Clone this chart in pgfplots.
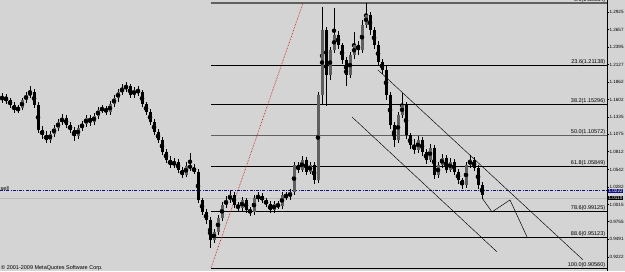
\documentclass[border=0pt]{standalone}
\usepackage{pgfplots}
\pgfplotsset{compat=1.18}
\usepackage{pgfplotstable}
\usepackage{fontspec}
\setmainfont{Liberation Sans}
\definecolor{bg}{RGB}{212,212,212}
\definecolor{navy}{RGB}{16,16,128}
\definecolor{upc}{RGB}{95,95,95}
\newcommand\tf{\fontsize{5.5}{6}\selectfont}
\newcommand\smf{\fontsize{4.6}{5}\selectfont}

\pgfplotstableread{
x o h l c d
2 1.160 1.170 1.155 1.164 1
6 1.164 1.168 1.153 1.159 0
10 1.159 1.163 1.147 1.152 0
14 1.152 1.156 1.139 1.144 0
18 1.144 1.152 1.140 1.147 1
22 1.147 1.163 1.144 1.159 1
26 1.159 1.172 1.155 1.167 1
30 1.167 1.180 1.162 1.171 1
34 1.171 1.176 1.148 1.152 0
38 1.152 1.156 1.110 1.114 0
42 1.114 1.120 1.100 1.106 0
46 1.106 1.112 1.094 1.099 0
50 1.099 1.112 1.095 1.108 1
54 1.108 1.122 1.104 1.117 1
58 1.117 1.131 1.112 1.126 1
62 1.126 1.138 1.121 1.132 1
66 1.132 1.136 1.117 1.122 0
70 1.122 1.126 1.109 1.114 0
74 1.114 1.118 1.098 1.105 0
78 1.105 1.121 1.101 1.117 1
82 1.117 1.128 1.113 1.123 1
86 1.123 1.137 1.119 1.132 1
90 1.132 1.136 1.120 1.126 0
94 1.126 1.140 1.122 1.135 1
98 1.135 1.149 1.131 1.144 1
102 1.144 1.152 1.139 1.147 1
106 1.147 1.151 1.136 1.141 0
110 1.141 1.158 1.137 1.153 1
114 1.153 1.167 1.149 1.162 1
118 1.162 1.176 1.157 1.171 1
122 1.171 1.183 1.167 1.177 1
126 1.177 1.186 1.172 1.180 1
130 1.180 1.184 1.162 1.167 0
134 1.167 1.179 1.163 1.174 1
138 1.174 1.180 1.166 1.171 0
142 1.171 1.175 1.148 1.153 0
146 1.153 1.157 1.136 1.141 0
150 1.141 1.145 1.121 1.126 0
154 1.126 1.130 1.106 1.111 0
158 1.111 1.115 1.094 1.099 0
162 1.099 1.103 1.076 1.081 0
166 1.081 1.085 1.064 1.069 0
170 1.069 1.074 1.056 1.061 0
174 1.061 1.071 1.057 1.066 1
178 1.066 1.070 1.049 1.054 0
182 1.054 1.058 1.041 1.046 0
186 1.046 1.065 1.043 1.060 1
190 1.060 1.080 1.052 1.057 0
194 1.057 1.062 1.047 1.051 0
198 1.051 1.055 1.003 1.008 0
202 1.008 1.012 0.985 0.990 0
206 0.990 0.995 0.972 0.978 0
210 0.978 0.982 0.935 0.948 0
214 0.948 0.965 0.944 0.960 1
218 0.960 0.986 0.956 0.981 1
222 0.981 1.006 0.977 1.001 1
226 1.001 1.014 0.996 1.008 1
230 1.008 1.022 1.004 1.016 1
234 1.016 1.020 0.996 1.001 0
238 1.001 1.006 0.990 0.996 0
242 0.996 1.013 0.992 1.008 1
246 1.008 1.012 0.988 0.993 0
250 0.993 0.998 0.984 0.990 0
254 0.990 1.016 0.986 1.011 1
258 1.011 1.020 1.006 1.014 1
262 1.014 1.019 1.003 1.008 0
266 1.008 1.012 0.997 1.002 0
270 1.002 1.006 0.988 0.993 0
274 0.993 1.007 0.989 1.002 1
278 1.002 1.006 0.994 0.999 0
282 0.999 1.021 0.995 1.016 1
286 1.016 1.020 1.008 1.013 0
290 1.013 1.025 1.009 1.020 1
294 1.020 1.066 1.016 1.061 1
298 1.061 1.065 1.049 1.054 0
302 1.054 1.075 1.050 1.069 1
306 1.069 1.073 1.046 1.051 0
310 1.051 1.066 1.047 1.061 1
314 1.061 1.065 1.032 1.038 0
318 1.038 1.172 1.034 1.167 1
322 1.167 1.300 1.152 1.265 1
326 1.265 1.270 1.150 1.197 0
330 1.197 1.240 1.190 1.235 1
334 1.235 1.298 1.230 1.258 1
338 1.258 1.263 1.237 1.242 0
342 1.242 1.246 1.214 1.220 0
346 1.220 1.224 1.180 1.197 0
350 1.197 1.232 1.192 1.227 1
354 1.227 1.262 1.222 1.242 1
358 1.242 1.248 1.228 1.235 0
362 1.235 1.280 1.230 1.273 1
366 1.273 1.306 1.268 1.288 1
370 1.288 1.293 1.258 1.265 0
374 1.265 1.270 1.236 1.242 0
378 1.242 1.248 1.211 1.217 0
382 1.217 1.222 1.199 1.205 0
386 1.205 1.210 1.160 1.167 0
390 1.167 1.171 1.116 1.122 0
394 1.122 1.126 1.088 1.099 0
398 1.099 1.141 1.094 1.137 1
402 1.137 1.170 1.132 1.152 1
406 1.152 1.156 1.100 1.106 0
410 1.106 1.110 1.085 1.091 0
414 1.091 1.100 1.078 1.084 0
418 1.084 1.105 1.080 1.099 1
422 1.099 1.103 1.075 1.081 0
426 1.081 1.085 1.063 1.069 0
430 1.069 1.093 1.065 1.087 1
434 1.087 1.091 1.040 1.046 0
438 1.046 1.066 1.042 1.061 1
442 1.061 1.078 1.057 1.072 1
446 1.072 1.076 1.049 1.054 0
450 1.054 1.071 1.050 1.066 1
454 1.066 1.070 1.046 1.051 0
458 1.051 1.055 1.033 1.038 0
462 1.038 1.042 1.025 1.031 0
466 1.031 1.066 1.027 1.061 1
470 1.061 1.076 1.056 1.069 1
474 1.069 1.073 1.052 1.057 0
478 1.057 1.061 1.025 1.031 0
482 1.031 1.035 1.010 1.016 0
}\candles

\begin{document}
\begin{tikzpicture}
\useasboundingbox (0pt,0pt) rectangle (625pt,271pt);
\fill[bg] (0pt,0pt) rectangle (625pt,271pt);
\begin{axis}[
  at={(0pt,0pt)}, anchor=south west,
  scale only axis, width=607pt, height=271pt,
  xmin=0, xmax=607, ymin=0.9010, ymax=1.3104,
  axis background/.style={fill=bg},
  axis x line=none,
  axis y line*=right,
  y axis line style={black, line width=0.6pt, -},
  ytick={1.2925,1.2657,1.2395,1.2127,1.1862,1.1602,1.1335,1.1075,1.0812,1.0542,1.0282,1.0015,0.9755,0.9491,0.9222},
  yticklabels={1.2925,1.2657,1.2395,1.2127,1.1862,1.1602,1.1335,1.1075,1.0812,1.0542,1.0282,1.0015,0.9755,0.9491,0.9222},
  tick align=outside, major tick length=2pt,
  ytick style={black, line width=0.5pt},
  yticklabel style={font=\smf, inner sep=0.3pt},
  clip mode=individual,
]
% fibonacci levels
\addplot[gray!75!black, line width=1.2pt] coordinates {(211,1.30584)(607,1.30584)};
\addplot[black, line width=0.6pt] coordinates {(211,1.21138)(607,1.21138)};
\addplot[black, line width=0.6pt] coordinates {(211,1.15296)(607,1.15296)};
\addplot[gray!75!black, line width=1.0pt] coordinates {(211,1.10572)(607,1.10572)};
\addplot[black, line width=0.6pt] coordinates {(211,1.05849)(607,1.05849)};
\addplot[black, line width=0.6pt] coordinates {(211,0.99125)(607,0.99125)};
\addplot[black, line width=0.6pt] coordinates {(211,0.95123)(607,0.95123)};
\addplot[black, line width=0.6pt] coordinates {(211,0.90560)(607,0.90560)};
% fib trend line
\addplot[red!80!black, densely dotted, line width=0.6pt] coordinates {(211,0.90560)(303,1.30584)};
% price lines
\addplot[gray!55, line width=0.6pt] coordinates {(0,1.0110)(607,1.0110)};
\addplot[navy, line width=0.8pt, dash pattern=on 3pt off 1.2pt on 1pt off 1.2pt] coordinates {(0,1.0222)(607,1.0222)};
% channel
\addplot[black, line width=0.45pt] coordinates {(378,1.2047)(583,0.9178)};
\addplot[black, line width=0.45pt] coordinates {(352,1.1337)(497,0.9299)};
% projection
\addplot[black, line width=0.5pt] coordinates {(482,1.0114)(492,0.9903)(510,1.0084)(527,0.9525)};
% candles: wicks
\addplot[only marks, mark=none, error bars/.cd, y dir=both, y explicit, error mark=none,
  error bar style={black, line width=0.8pt}]
  table[x=x, y expr={(\thisrow{h}+\thisrow{l})/2}, y error expr={(\thisrow{h}-\thisrow{l})/2}] {\candles};
% bodies: up
\addplot[only marks, mark=none, restrict expr to domain={\thisrow{d}}{0.5:1.5},
  error bars/.cd, y dir=both, y explicit, error mark=none,
  error bar style={upc, line width=3pt}]
  table[x=x, y expr={(\thisrow{o}+\thisrow{c})/2}, y error expr={abs(\thisrow{c}-\thisrow{o})/2}] {\candles};
% bodies: down
\addplot[only marks, mark=none, restrict expr to domain={\thisrow{d}}{-0.5:0.5},
  error bars/.cd, y dir=both, y explicit, error mark=none,
  error bar style={black, line width=3pt}]
  table[x=x, y expr={(\thisrow{o}+\thisrow{c})/2}, y error expr={abs(\thisrow{c}-\thisrow{o})/2}] {\candles};
% fib labels
\node[font=\tf, anchor=south east, inner sep=0.6pt] at (axis cs:606,1.30584) {0.0(1.30584)};
\node[font=\tf, anchor=south east, inner sep=0.6pt] at (axis cs:606,1.21138) {23.6(1.21138)};
\node[font=\tf, anchor=south east, inner sep=0.6pt] at (axis cs:606,1.15296) {38.2(1.15296)};
\node[font=\tf, anchor=south east, inner sep=0.6pt] at (axis cs:606,1.10572) {50.0(1.10572)};
\node[font=\tf, anchor=south east, inner sep=0.6pt] at (axis cs:606,1.05849) {61.8(1.05849)};
\node[font=\tf, anchor=south east, inner sep=0.6pt] at (axis cs:606,0.99125) {78.6(0.99125)};
\node[font=\tf, anchor=south east, inner sep=0.6pt] at (axis cs:606,0.95123) {88.6(0.95123)};
\node[font=\tf, anchor=south east, inner sep=0.6pt] at (axis cs:606,0.90560) {100.0(0.90560)};
% right price boxes
\node[font=\smf, anchor=west, fill=navy, text=white, inner sep=0.4pt] at (axis cs:608,1.0222) {1.0222};
\node[font=\smf, anchor=west, fill=black, text=white, inner sep=0.4pt] at (axis cs:608,1.0110) {1.0110};
% left label
\node[font=\tf, anchor=south west, inner sep=0.5pt] at (axis cs:0,1.0222) {sell};
\end{axis}
\node[font=\tf, anchor=north west, inner sep=0pt] at (1pt,5.5pt) {\textcopyright\ 2001-2009 MetaQuotes Software Corp.};
\end{tikzpicture}
\end{document}
